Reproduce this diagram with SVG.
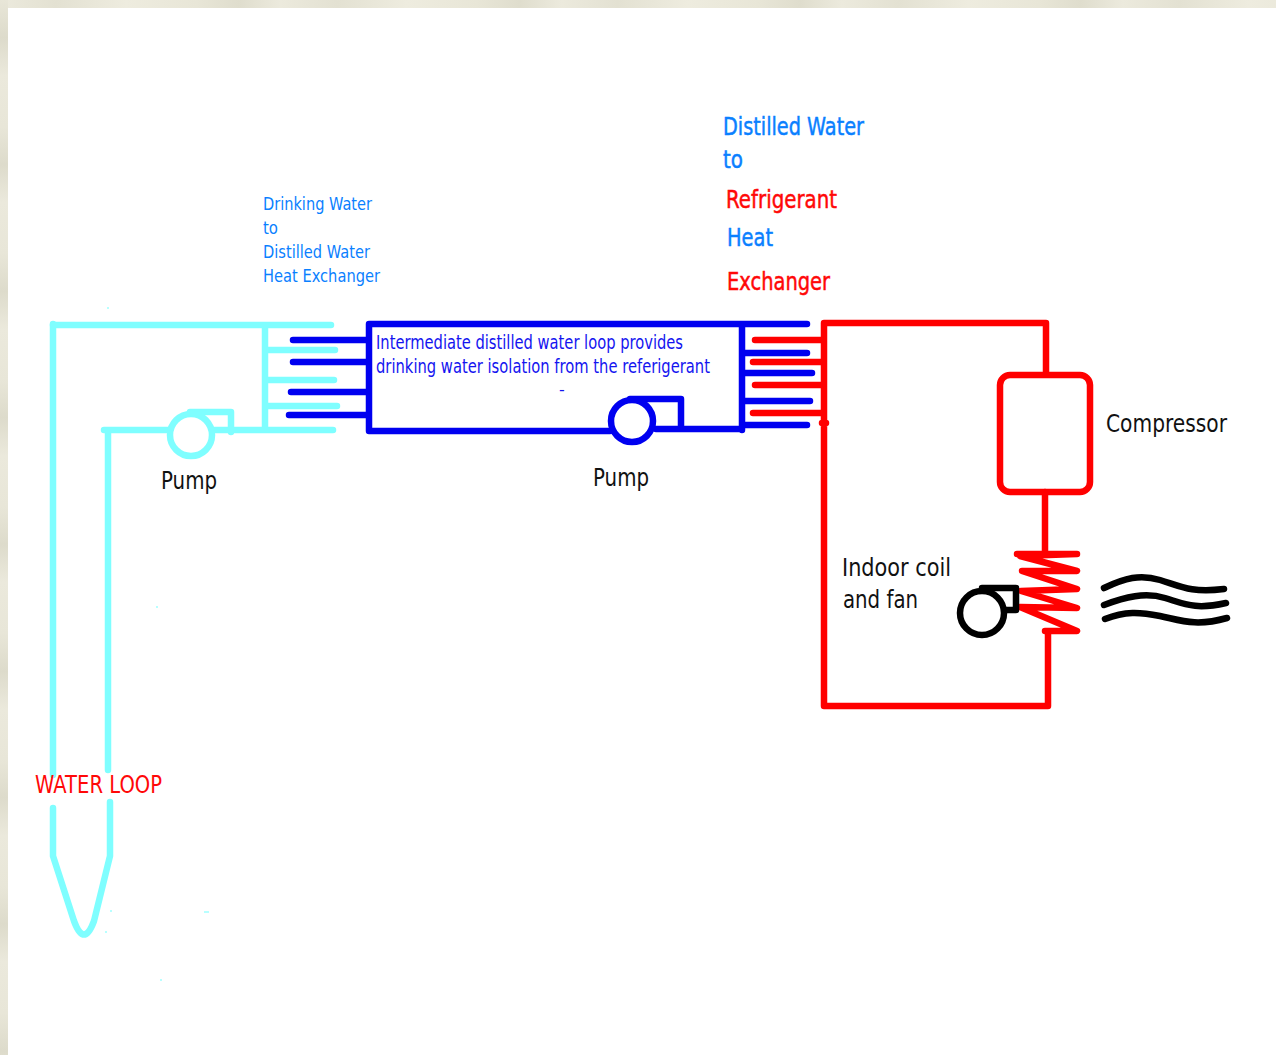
<svg xmlns="http://www.w3.org/2000/svg" width="1276" height="1055" viewBox="0 0 1276 1055">
<defs>
<linearGradient id="top" x1="0" x2="0.22" y1="0" y2="0" spreadMethod="repeat">
<stop offset="0" stop-color="#eceadd"/><stop offset="0.2" stop-color="#e3e1d2"/><stop offset="0.45" stop-color="#eeecdf"/><stop offset="0.7" stop-color="#e8e6d7"/><stop offset="0.85" stop-color="#dfddcd"/><stop offset="1" stop-color="#eceadd"/>
</linearGradient>
<linearGradient id="left" x1="0" x2="0" y1="0" y2="0.12" spreadMethod="repeat">
<stop offset="0" stop-color="#e8e6d8"/><stop offset="0.3" stop-color="#dddbcb"/><stop offset="0.6" stop-color="#ebe9dc"/><stop offset="1" stop-color="#e8e6d8"/>
</linearGradient>
</defs>
<style>
.w{fill:none;stroke-linecap:round;stroke-linejoin:round;stroke-width:6.5}
.c{stroke:#7ffeff}.b{stroke:#0000f0}.r{stroke:#ff0000}.k{stroke:#000}
text{font-family:"DejaVu Sans","Noto Sans",sans-serif}
.lb{fill:#0a80ff}.lr{fill:#ff0808}.ln{fill:#1414f0}.lk{fill:#111}
.s{stroke-width:0.5}.lb.s{stroke:#0a80ff}.lr.s{stroke:#ff0808}
.sp{fill:#b8ffff}
</style>
<rect width="1276" height="1055" fill="#fff"/>
<rect width="1276" height="8" fill="url(#top)"/>
<rect width="8" height="1055" fill="url(#left)"/>
<g id="specks">
<rect class="sp" x="107" y="307" width="2" height="2"/><rect class="sp" x="156" y="606" width="2" height="2"/><rect class="sp" x="110" y="910" width="2" height="2"/><rect class="sp" x="204" y="911" width="5" height="2"/><rect class="sp" x="105" y="931" width="2" height="2"/><rect class="sp" x="160" y="979" width="2" height="2"/>
</g>
<g id="water-loop">
<path class="w c" d="M53 324V775M53 808V856L74 921Q84 948 94 921L110 856V802M108 770V431"/>
<path class="w c" d="M53 325H331M104 430H170M214 430H333M265 325V430M265 350H335M265 380H334M265 406H337"/>
<path class="w c" d="M190 412H231V432"/>
<circle class="w c" cx="191" cy="435" r="21"/>
</g>
<g id="distilled-loop">
<path class="w b" d="M369 324H807M369 324V431M293 340H369M293 362H369M291 392H369M289 415H369M369 431H610M742 324V430M742 353H807M742 373H812M742 401H810M742 425H807M656 429H742M630 399H681V428"/>
<circle class="w b" cx="632" cy="421" r="21"/>
</g>
<g id="refrigerant-loop">
<path class="w r" d="M824 323H1046V374M824 323V706H1048V632M755 340H824M753 362H824M755 385H824M753 413H824M822 423H826"/>
<rect class="w r" x="1000" y="375" width="90" height="117" rx="10"/>
<path class="w r" d="M1045 492V552M1017 554H1077L1020 556L1077 571L1022 571L1077 589L1021 591L1077 608L1020 607L1077 631H1045"/>
</g>
<g id="fan">
<circle class="w k" cx="982" cy="613" r="22"/>
<path class="w k" d="M982 588H1016V610H1005"/>
</g>
<g id="air">
<path class="w k" d="M1104 588C1125 578 1140 574 1160 580S1190 593 1224 589M1104 605C1125 597 1145 592 1165 598S1195 610 1226 603M1105 619C1125 611 1140 612 1160 616S1195 627 1227 618"/>
</g>
<g id="labels">
<text class="lb" x="263" y="210" font-size="18" textLength="109" lengthAdjust="spacingAndGlyphs">Drinking Water</text>
<text class="lb" x="263" y="234" font-size="18" textLength="15" lengthAdjust="spacingAndGlyphs">to</text>
<text class="lb" x="263" y="258" font-size="18" textLength="107" lengthAdjust="spacingAndGlyphs">Distilled Water</text>
<text class="lb" x="263" y="282" font-size="18" textLength="117" lengthAdjust="spacingAndGlyphs">Heat Exchanger</text>
<text class="lb s" x="723" y="135" font-size="25" textLength="141" lengthAdjust="spacingAndGlyphs">Distilled Water</text>
<text class="lb s" x="723" y="168" font-size="25" textLength="20" lengthAdjust="spacingAndGlyphs">to</text>
<text class="lr s" x="726" y="208" font-size="24" textLength="111" lengthAdjust="spacingAndGlyphs">Refrigerant</text>
<text class="lb s" x="727" y="246" font-size="24" textLength="46" lengthAdjust="spacingAndGlyphs">Heat</text>
<text class="lr s" x="727" y="290" font-size="24" textLength="103" lengthAdjust="spacingAndGlyphs">Exchanger</text>
<text class="ln" x="376" y="349" font-size="19" textLength="307" lengthAdjust="spacingAndGlyphs">Intermediate distilled water loop provides</text>
<text class="ln" x="376" y="373" font-size="19" textLength="334" lengthAdjust="spacingAndGlyphs">drinking water isolation from the referigerant</text>
<text class="ln" x="559" y="395" font-size="16">-</text>
<text class="lk" x="161" y="489" font-size="24" textLength="56" lengthAdjust="spacingAndGlyphs">Pump</text>
<text class="lk" x="593" y="486" font-size="24" textLength="56" lengthAdjust="spacingAndGlyphs">Pump</text>
<text class="lk" x="1106" y="432" font-size="24" textLength="121" lengthAdjust="spacingAndGlyphs">Compressor</text>
<text class="lk" x="842" y="576" font-size="24" textLength="109" lengthAdjust="spacingAndGlyphs">Indoor coil</text>
<text class="lk" x="843" y="608" font-size="24" textLength="75" lengthAdjust="spacingAndGlyphs">and fan</text>
<text class="lr" x="35" y="793" font-size="25" textLength="127" lengthAdjust="spacingAndGlyphs">WATER LOOP</text>
</g>
</svg>
